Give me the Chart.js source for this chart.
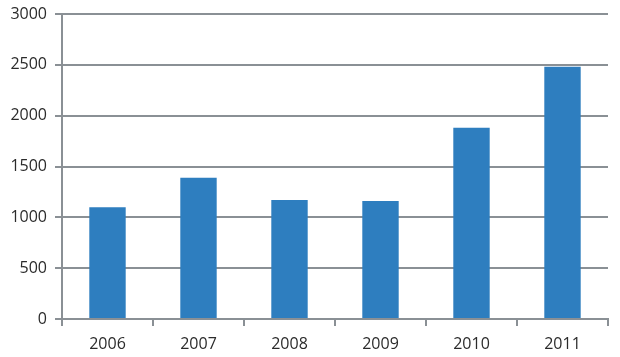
<!DOCTYPE html>
<html>
<head>
<meta charset="utf-8">
<script src="https://cdn.jsdelivr.net/npm/chart.js@4"></script>
<style>
  html, body { margin: 0; padding: 0; background: #ffffff; }
  #wrap { width: 620px; height: 357px; position: relative; }
</style>
</head>
<body>
<div id="wrap"><canvas id="c" width="620" height="357"></canvas></div>
<script>
const categories = ["2006", "2007", "2008", "2009", "2010", "2011"];
const values = [1100, 1390, 1170, 1160, 1880, 2480];
const yTicks = [0, 500, 1000, 1500, 2000, 2500, 3000];

const gridColor = "#8a9095";
const barColor = "#2e7ebf";
const textColor = "#2b2b2b";

new Chart(document.getElementById("c"), {
  type: "bar",
  data: {
    labels: categories,
    datasets: [{
      data: values,
      backgroundColor: barColor,
      borderWidth: 0,
      categoryPercentage: 1,
      barPercentage: 0.4
    }]
  },
  options: {
    responsive: false,
    animation: false,
    layout: { padding: { left: 0, top: 14, right: 12, bottom: 0 } },
    plugins: { legend: { display: false }, tooltip: { enabled: false } },
    scales: {
      y: {
        min: 0, max: 3000,
        afterFit: (s) => { s.width = 62; s.paddingTop = 0; s.paddingBottom = 0; },
        afterBuildTicks: (s) => { s.ticks = yTicks.map(v => ({ value: v })); },
        grid: { color: gridColor, lineWidth: 2, tickLength: 7, drawTicks: true },
        border: { display: true, color: gridColor, width: 2 },
        ticks: { color: textColor, font: { family: "Open Sans", size: 16 }, padding: 8,
                 callback: (v) => String(v) }
      },
      x: {
        afterFit: (s) => { s.height = 38; },
        grid: { display: true, drawOnChartArea: false, color: gridColor, lineWidth: 2, tickLength: 7, offset: true },
        border: { display: true, color: gridColor, width: 2 },
        ticks: { color: textColor, font: { family: "Open Sans", size: 16 }, padding: 9 }
      }
    }
  }
});
</script>
</body>
</html>
